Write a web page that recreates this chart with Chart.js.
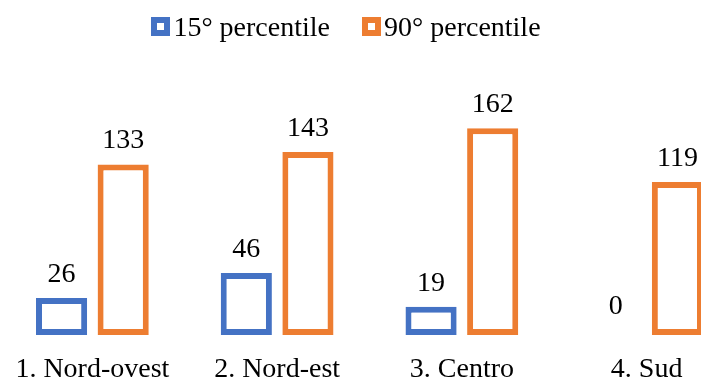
<!DOCTYPE html>
<html>
<head>
<meta charset="utf-8">
<script src="https://cdn.jsdelivr.net/npm/chart.js@4/dist/chart.umd.min.js"></script>
<style>
  html, body { margin: 0; padding: 0; background: #fff; overflow: hidden; width: 701px; height: 378px; }
  #wrap { position: relative; width: 739px; height: 378px; }
  #legend {
    position: absolute; left: 0; top: 12.5px; width: 692px; height: 28px;
    display: flex; justify-content: center; align-items: center; gap: 32px;
    font-family: "Liberation Serif", serif; font-size: 28px; line-height: 28px; color: #000;
  }
  .item { display: flex; align-items: center; }
  .swatch { width: 19px; height: 19px; box-sizing: border-box; border: 6px solid; background: #fff; margin-right: 3px; }
</style>
</head>
<body>
<div id="wrap">
  <canvas id="chart" width="739" height="378"></canvas>
  <div id="legend"></div>
</div>
<script>
const categories = ['1. Nord-ovest', '2. Nord-est', '3. Centro', '4. Sud'];
const seriesNames = ['15° percentile', '90° percentile'];
const p15 = [26, 46, 19, 0];
const p90 = [133, 143, 162, 119];
const colors = ['#4472C4', '#ED7D31'];

const FONT = '"Liberation Serif", serif';

// legend row
const legendEl = document.getElementById('legend');
seriesNames.forEach((name, i) => {
  const item = document.createElement('div');
  item.className = 'item';
  const sw = document.createElement('span');
  sw.className = 'swatch';
  sw.style.borderColor = colors[i];
  const tx = document.createElement('span');
  tx.textContent = name;
  item.appendChild(sw);
  item.appendChild(tx);
  legendEl.appendChild(item);
});

// value labels above each bar
const valueLabels = {
  id: 'valueLabels',
  afterDatasetsDraw(chart) {
    const ctx = chart.ctx;
    ctx.save();
    ctx.font = '28px ' + FONT;
    ctx.fillStyle = '#000';
    ctx.textAlign = 'center';
    ctx.textBaseline = 'alphabetic';
    chart.data.datasets.forEach((ds, di) => {
      chart.getDatasetMeta(di).data.forEach((bar, i) => {
        ctx.fillText(String(ds.data[i]), bar.x, bar.y - 16);
      });
    });
    ctx.restore();
  }
};

const outlined = (values, color) => ({
  data: values,
  backgroundColor: '#fff',
  borderColor: color,
  borderWidth: c => (c.raw ? 6 : 0),
  borderSkipped: false,
  base: -3.7,
  categoryPercentage: 0.667,
  barPercentage: 0.83
});

new Chart(document.getElementById('chart'), {
  type: 'bar',
  data: {
    labels: categories,
    datasets: [
      Object.assign({ label: seriesNames[0] }, outlined(p15, colors[0])),
      Object.assign({ label: seriesNames[1] }, outlined(p90, colors[1]))
    ]
  },
  options: {
    responsive: false,
    animation: false,
    devicePixelRatio: 1,
    layout: { padding: { left: 0, right: 0, top: 60, bottom: 0 } },
    plugins: { legend: { display: false }, tooltip: { enabled: false } },
    scales: {
      x: {
        grid: { display: false, drawTicks: false },
        border: { display: false },
        ticks: { color: '#000', font: { family: FONT, size: 28 }, padding: 18, maxRotation: 0, autoSkip: false },
        afterFit: axis => {
          axis.height = 43;
          axis.paddingLeft = 0;
          axis.paddingRight = 0;
        }
      },
      y: {
        display: false,
        min: -3.7,
        max: 216.7
      }
    }
  },
  plugins: [valueLabels]
});
</script>
</body>
</html>
